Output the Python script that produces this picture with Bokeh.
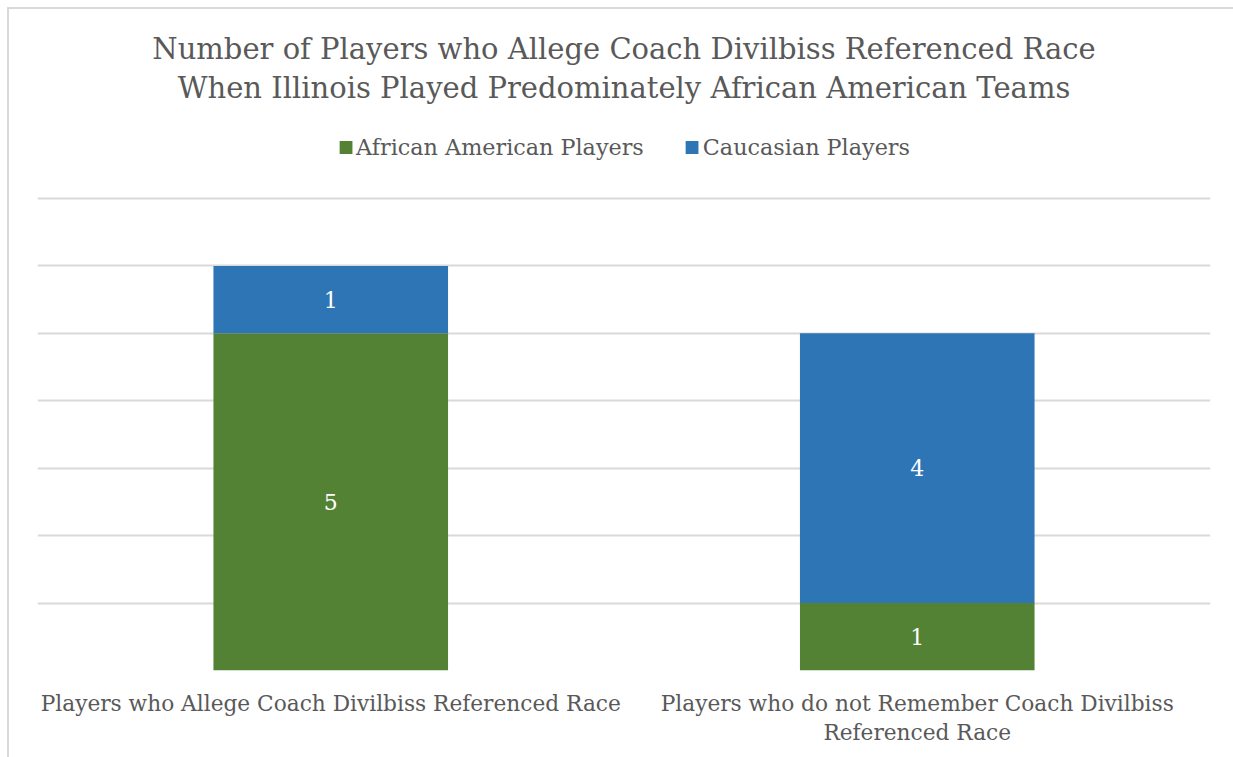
from bokeh.plotting import figure
from bokeh.models import (ColumnDataSource, Legend, LegendItem, Label, FixedTicker,
                          CategoricalAxis, FactorRange)
from bokeh.embed import file_html
from bokeh.resources import INLINE
from bokeh.core.properties import value

# ---- data ----
categories = ["Players who Allege Coach Divilbiss Referenced Race",
              "Players who do not Remember Coach Divilbiss Referenced Race"]
label_line1 = ["Players who Allege Coach Divilbiss Referenced Race",
               "Players who do not Remember Coach Divilbiss"]
label_line2 = [" ", "Referenced Race"]
series_names = ["African American Players", "Caucasian Players"]
african_american = [5, 1]
caucasian = [1, 4]
y_ticks = [0, 1, 2, 3, 4, 5, 6, 7]

title_lines = ["Number of Players who Allege Coach Divilbiss Referenced Race",
               "When Illinois Played Predominately African American Teams"]

GREEN = "#548235"
BLUE = "#2E75B6"
TEXT = "#595959"
FONT = "DejaVu Serif"

W, H = 1233, 757
FRAME_BOTTOM = 670          # px from top where value 0 sits
PX_PER_UNIT = 472 / 7        # grid spacing in px
Y_END = FRAME_BOTTOM / PX_PER_UNIT

src = ColumnDataSource(dict(cat=categories, aa=african_american, ca=caucasian))

p = figure(x_range=categories, y_range=(0, Y_END), width=W, height=H,
           output_backend="svg", toolbar_location=None, title_location=None,
           min_border_left=37, min_border_right=23, min_border_top=0,
           min_border_bottom=H - FRAME_BOTTOM)

stack = p.vbar_stack(["aa", "ca"], x="cat", width=0.4, source=src,
                     color=[GREEN, BLUE], line_color=None)

# data labels
aa_y = [v / 2 for v in african_american]
ca_y = [a + c / 2 for a, c in zip(african_american, caucasian)]
lab_src = ColumnDataSource(dict(cat=categories * 2, y=aa_y + ca_y,
                                txt=[str(v) for v in african_american + caucasian]))
p.text(x="cat", y="y", text="txt", source=lab_src, text_color="white",
       text_font=value(FONT), text_font_size="22px", text_align="center",
       text_baseline="middle")

# axes / grid
p.yaxis.visible = False
p.xaxis.visible = False
p.xgrid.grid_line_color = None
p.ygrid.ticker = FixedTicker(ticks=y_ticks)
p.ygrid.grid_line_color = "#d9d9d9"
p.ygrid.grid_line_width = 2
p.outline_line_color = None
p.background_fill_color = None
p.border_fill_color = None

p.extra_x_ranges = {"l1": FactorRange(factors=label_line1),
                    "l2": FactorRange(factors=label_line2)}
for name, standoff in (("l1", 20), ("l2", 1)):
    ax = CategoricalAxis(x_range_name=name, axis_line_color=None,
                         major_tick_line_color=None, minor_tick_line_color=None,
                         major_tick_out=0, major_tick_in=0,
                         major_label_text_font=FONT,
                         major_label_text_font_size="21.7px",
                         major_label_text_color=TEXT,
                         major_label_standoff=standoff)
    p.add_layout(ax, "below")

# legend inside the (extended) frame, above the grid
legend = Legend(items=[LegendItem(label=series_names[0], renderers=[stack[0]]),
                       LegendItem(label=series_names[1], renderers=[stack[1]])],
                orientation="horizontal", location="top_center",
                label_text_font=FONT, label_text_font_size="22.3px",
                label_text_color=TEXT, glyph_width=16, glyph_height=16,
                spacing=40, label_standoff=3, border_line_color=None,
                background_fill_alpha=0, margin=134, padding=4)
p.add_layout(legend, "center")

# two-line title
mid_x = len(categories) / 2
for line, ypx in zip(title_lines, (48, 87)):
    p.add_layout(Label(x=mid_x, y=(FRAME_BOTTOM - ypx) / PX_PER_UNIT, text=line,
                       text_align="center", text_baseline="middle",
                       text_font=FONT, text_font_size="29px", text_color=TEXT))

p.styles = {
    "background-color": "white",
    "background-image": "linear-gradient(#d9d9d9, #d9d9d9), linear-gradient(#d9d9d9, #d9d9d9)",
    "background-size": "2px calc(100% - 7px), calc(100% - 7px) 2px",
    "background-position": "7px 7px, 7px 7px",
    "background-repeat": "no-repeat",
}

open("out.html", "w").write(file_html(p, INLINE))
